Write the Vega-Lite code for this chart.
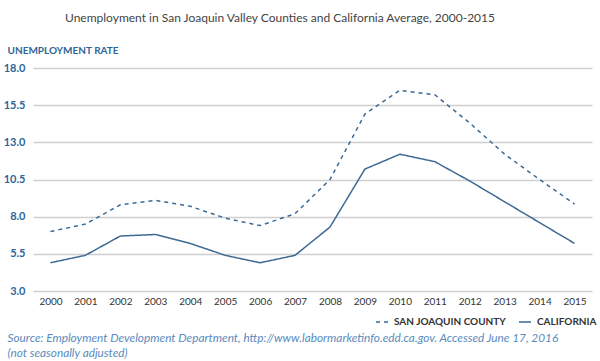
{
  "$schema": "https://vega.github.io/schema/vega-lite/v6.json",
  "autosize": "none",
  "width": 559,
  "height": 223,
  "padding": {"left": 33, "top": 68, "right": 8, "bottom": 70},
  "background": "white",
  "title": {
    "text": "Unemployment in San Joaquin Valley Counties and California Average, 2000-2015",
    "anchor": "start",
    "frame": "group",
    "dx": 32,
    "dy": -16,
    "font": "Lato",
    "fontSize": 12,
    "fontWeight": "normal",
    "color": "#444444"
  },
  "config": {
    "view": {"stroke": null},
    "font": "Lato"
  },
  "data": {
    "values": [
      {"year": "2000", "series": "SAN JOAQUIN COUNTY", "rate": 7.0},
      {"year": "2001", "series": "SAN JOAQUIN COUNTY", "rate": 7.5},
      {"year": "2002", "series": "SAN JOAQUIN COUNTY", "rate": 8.8},
      {"year": "2003", "series": "SAN JOAQUIN COUNTY", "rate": 9.1},
      {"year": "2004", "series": "SAN JOAQUIN COUNTY", "rate": 8.7},
      {"year": "2005", "series": "SAN JOAQUIN COUNTY", "rate": 7.9},
      {"year": "2006", "series": "SAN JOAQUIN COUNTY", "rate": 7.4},
      {"year": "2007", "series": "SAN JOAQUIN COUNTY", "rate": 8.2},
      {"year": "2008", "series": "SAN JOAQUIN COUNTY", "rate": 10.5},
      {"year": "2009", "series": "SAN JOAQUIN COUNTY", "rate": 14.9},
      {"year": "2010", "series": "SAN JOAQUIN COUNTY", "rate": 16.5},
      {"year": "2011", "series": "SAN JOAQUIN COUNTY", "rate": 16.2},
      {"year": "2012", "series": "SAN JOAQUIN COUNTY", "rate": 14.3},
      {"year": "2013", "series": "SAN JOAQUIN COUNTY", "rate": 12.2},
      {"year": "2014", "series": "SAN JOAQUIN COUNTY", "rate": 10.5},
      {"year": "2015", "series": "SAN JOAQUIN COUNTY", "rate": 8.85},
      {"year": "2000", "series": "CALIFORNIA", "rate": 4.9},
      {"year": "2001", "series": "CALIFORNIA", "rate": 5.4},
      {"year": "2002", "series": "CALIFORNIA", "rate": 6.7},
      {"year": "2003", "series": "CALIFORNIA", "rate": 6.8},
      {"year": "2004", "series": "CALIFORNIA", "rate": 6.2},
      {"year": "2005", "series": "CALIFORNIA", "rate": 5.4},
      {"year": "2006", "series": "CALIFORNIA", "rate": 4.9},
      {"year": "2007", "series": "CALIFORNIA", "rate": 5.4},
      {"year": "2008", "series": "CALIFORNIA", "rate": 7.3},
      {"year": "2009", "series": "CALIFORNIA", "rate": 11.2},
      {"year": "2010", "series": "CALIFORNIA", "rate": 12.2},
      {"year": "2011", "series": "CALIFORNIA", "rate": 11.7},
      {"year": "2012", "series": "CALIFORNIA", "rate": 10.4},
      {"year": "2013", "series": "CALIFORNIA", "rate": 9.0},
      {"year": "2014", "series": "CALIFORNIA", "rate": 7.6},
      {"year": "2015", "series": "CALIFORNIA", "rate": 6.2}
    ]
  },
  "mark": {"type": "line", "color": "#3d6a94", "strokeWidth": 1.5},
  "encoding": {
    "x": {
      "field": "year",
      "type": "ordinal",
      "scale": {"type": "point", "padding": 0.5},
      "axis": {
        "labelAngle": 0,
        "labelFont": "Lato",
        "labelFontSize": 10,
        "labelColor": "#333333",
        "labelPadding": 5,
        "ticks": false,
        "domain": false,
        "grid": false,
        "title": ["Source: Employment Development Department, http://www.labormarketinfo.edd.ca.gov. Accessed June 17, 2016", "(not seasonally adjusted)"],
        "titleFont": "Lato",
        "titleFontStyle": "italic",
        "titleFontWeight": "normal",
        "titleFontSize": 11.8,
        "titleColor": "#5a8bbd",
        "titleAlign": "left",
        "titleBaseline": "top",
        "titleX": -26,
        "titleY": 41,
        "titleLineHeight": 15
      }
    },
    "y": {
      "field": "rate",
      "type": "quantitative",
      "scale": {"domain": [3, 18], "nice": false, "zero": false},
      "axis": {
        "values": [3, 5.5, 8, 10.5, 13, 15.5, 18],
        "format": ".1f",
        "labelFont": "Lato",
        "labelFontSize": 11,
        "labelFontWeight": "bold",
        "labelColor": "#2f6599",
        "labelPadding": 8,
        "ticks": false,
        "domain": false,
        "grid": true,
        "gridColor": "#cfcfcf",
        "gridWidth": 1.3,
        "title": "UNEMPLOYMENT RATE",
        "titleAngle": 0,
        "titleAlign": "left",
        "titleBaseline": "middle",
        "titleX": -26,
        "titleY": -18,
        "titleFont": "Lato",
        "titleFontSize": 10,
        "titleFontWeight": "bold",
        "titleColor": "#2f6599"
      }
    },
    "strokeDash": {
      "field": "series",
      "type": "nominal",
      "scale": {"domain": ["SAN JOAQUIN COUNTY", "CALIFORNIA"], "range": [[4, 4], [1, 0]]},
      "legend": {
        "title": null,
        "orient": "none",
        "direction": "horizontal",
        "legendX": 342,
        "legendY": 247,
        "symbolType": "stroke",
        "symbolSize": 144,
        "symbolStrokeColor": "#3d6a94",
        "symbolStrokeWidth": 1.5,
        "labelFont": "Lato",
        "labelFontSize": 10,
        "labelFontWeight": "bold",
        "labelColor": "#333333",
        "labelOffset": 5,
        "columnPadding": 9,
        "labelLimit": 300
      }
    }
  }
}
